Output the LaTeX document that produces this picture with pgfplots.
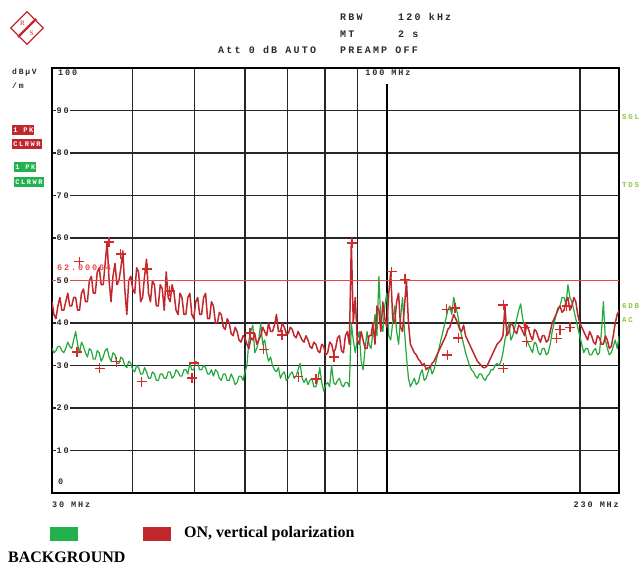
\documentclass[border=0pt]{standalone}
\usepackage{pgfplots}
\pgfplotsset{compat=1.18}
\usepackage{pgfplotstable}
\usepackage{fontspec}
\setmainfont{Liberation Serif}
\newfontfamily\rsfont[LetterSpace=22]{Liberation Mono}
\definecolor{trred}{HTML}{C0272D}
\definecolor{trgreen}{HTML}{22A83C}
\definecolor{limred}{HTML}{E84A4A}
\definecolor{lgreen}{HTML}{22B14C}
\definecolor{lred}{HTML}{C1272D}
\definecolor{mkred}{HTML}{D42A2A}
\definecolor{txt}{HTML}{2E2A25}
\definecolor{rsgreen}{HTML}{8CC63F}
\newcommand\rs[2]{{\rsfont\fontsize{#1}{#1}\selectfont\bfseries #2}}

\pgfplotstableread{
f on bg
30.00 45 34
30.21 42 33
30.43 41 33.5
30.64 44 34.5
30.86 46 34.5
31.08 43 33.5
31.30 43 33
31.52 45 34
31.75 47 35.5
31.97 44 34.5
32.20 44 34
32.43 46 36
32.66 46 38
32.89 43 35
33.12 43 33
33.35 47 35.5
33.59 48 34.5
33.83 45 33
34.07 45 32
34.31 50 34
34.56 51 33.5
34.80 47 31.5
35.05 47 31.5
35.30 52 33.5
35.55 53 33
35.80 49 31
36.06 49 32
36.31 54 33.5
36.57 59 34
36.83 50 32
37.09 45 31
37.35 51 33
37.62 54 32.5
37.89 49 30.5
38.16 50 30.5
38.43 53 32
38.70 57 31.5
38.97 48 30
39.25 42 29.5
39.53 50 31
39.81 51 30.5
40.09 48 29
40.38 47 28.5
40.66 53 30
40.95 52 29.5
41.24 45 28
41.54 46 28
41.83 51 29.5
42.13 55 28.5
42.43 47 27
42.73 45 27
43.03 50 28.5
43.34 49 28
43.64 44 26.5
43.95 44 26.5
44.26 49 28
44.58 48 28
44.90 43 27
45.22 52 27
45.54 46 28.5
45.86 45 28.5
46.18 49 27
46.51 47 27.5
46.84 43 29
47.18 42 28.5
47.51 47 27.5
47.85 46 27.5
48.19 42 29
48.53 42 29
48.87 46 28
49.22 47 30.5
49.57 42 29
49.92 41 29
50.27 45 31
50.63 46 30.5
50.99 42 29
51.35 42 29
51.72 46 30
52.09 47 29.5
52.46 41 28
52.83 41 28
53.20 45 29
53.58 44 27.5
53.96 40 29
54.35 40 28.5
54.73 42.5 27
55.12 42 26.5
55.51 39 28
55.90 38.5 28
56.30 41 26.5
56.70 40 26.5
57.10 37.5 28
57.51 37 27
57.92 39 25.5
58.33 38 26
58.74 36 27.5
59.16 35.5 27.5
59.58 37 26.5
60.00 36.5 28.5
60.43 35 30
60.86 34 36
61.29 36.5 38
61.72 36 39.5
62.16 37.5 33
62.60 35 34
63.05 36 36
63.50 37 40
63.95 39 35
64.40 38 36
64.86 37 33
65.32 40 31
65.78 38 32
66.25 38 30
66.72 39.5 29
67.19 42 28.5
67.67 38 29.5
68.15 38 27
68.63 40 28
69.12 39 28.5
69.61 37.5 26.5
70.11 37.5 27
70.61 39 28
71.11 38.5 28.5
71.61 37 27
72.12 36.5 27.5
72.63 38 29
73.15 37 30.5
73.67 36 27
74.19 35.5 26
74.72 37 27
75.25 36 25.5
75.78 34.5 26.5
76.32 34 27
76.86 35.5 25
77.41 35 25
77.96 33.5 26.5
78.51 33 29.5
79.07 35 26
79.63 34.5 24
80.19 32.5 25.5
80.76 33 26
81.33 35.5 25
81.91 35 30
82.49 33 26
83.08 34 25.5
83.67 36.5 26.5
84.26 37 27
84.86 33.5 25.5
85.47 33 25
86.07 37 26
86.68 38 26
87.30 35 25
87.92 59 40
88.54 40 36
89.17 46 33
89.80 36 36
90.44 35 38
91.08 38 31
91.73 36 29
92.38 34 34
93.04 34 38
93.70 37 35
94.37 37 34
95.04 40 38
95.71 35 42
96.39 44 37
97.08 43 51
97.77 38 40
98.46 45 38
99.16 41 44
99.86 39 47
100.57 47 37
101.28 52 36
102.00 41 40
102.73 40 44
103.46 45 38
104.19 47 35
104.93 39 41
105.68 38 46
106.43 44 38
107.19 50 32
107.95 40 27
108.71 35 25
109.48 34 26
110.26 33 27
111.04 32.5 25.5
111.83 31.5 26
112.63 31 28
113.43 30 29
114.23 30.5 26.5
115.04 29 27
115.86 29.5 28.5
116.68 29.5 30
117.51 30.5 28
118.34 31 29
119.18 32 31
120.03 33 33
120.88 34 35
121.74 35 37
122.61 36 39
123.48 37 41
124.36 38.5 43
125.24 39 44
126.13 40.5 42
127.02 42 46
127.92 41 44
128.83 40 42
129.75 38.5 39
130.67 38 37
131.60 39.5 35
132.53 37 33
133.47 36 31.5
134.42 35 30
135.37 34 29
136.33 33 28.5
137.30 32 27.5
138.28 31 27
139.26 30.5 28
140.25 30 28
141.25 29.5 27
142.25 29.5 26.5
143.26 30 27.5
144.27 31 28
145.30 32 29
146.33 33 29
147.37 34 30
148.41 35 30.5
149.47 35.5 30
150.53 36 31
151.60 37 33
152.67 44 36
153.76 37 38
154.85 38 40
155.95 40 36
157.05 39.5 37
158.17 38 39
159.29 37.5 41
160.42 39.5 43
161.56 39 44.5
162.71 38 41
163.86 37 39
165.03 39.5 36
166.20 38.5 35
167.38 37 34
168.57 36 33
169.77 38.5 35.5
170.97 38 35
172.18 36.5 33
173.40 35.5 32.5
174.64 37 34
175.88 37 34
177.13 35.5 32.5
178.38 36 33
179.65 38 35
180.92 40 38
182.21 41 40
183.50 42 42
184.81 43.5 43
186.12 44 44
187.44 42.5 46
188.77 43 46
190.11 45 44.5
191.46 46 49
192.82 43 46
194.19 44 45
195.57 46 43
196.95 45 41
198.35 42 39
199.76 40 37
201.18 39 35
202.61 38 33
204.05 37 34
205.49 36 34
206.95 38 32.5
208.42 37 32.5
209.90 35.5 33.5
211.39 35 34
212.89 37 32.5
214.40 36.5 33
215.93 35 38
217.46 35 45
219.01 37 36
220.56 36 34
222.13 34 32.5
223.70 34.5 33
225.29 37 34.5
226.89 40 36
228.50 42 34
230.12 43 37
}\spectrum

\pgfplotstableread{
f v
33.1 54.4
36.8 59.1
38.4 56.2
42.2 52.7
45.8 47.5
32.8 33.2
35.6 29.3
37.8 30.9
41.4 26.2
49.6 27.1
50.0 30.6
61.1 37.6
64.2 33.8
68.5 37.2
72.7 27.4
77.4 26.8
82.6 32.0
88.1 58.8
101.6 52.1
106.6 50.3
123.8 43.2
127.6 43.5
129.1 36.5
124.1 32.5
151.8 44.2
151.8 29.3
164.0 39.0
165.1 35.6
186.1 38.4
183.9 36.4
192.9 39.0
190.6 44.0
}\markers

\begin{document}
\begin{tikzpicture}
\path[use as bounding box] (0pt,0pt) rectangle (643pt,565pt);
\begin{axis}[at={(52pt,72pt)}, anchor=south west, scale only axis,
  width=567pt, height=425pt,
  xmode=log, xmin=30, xmax=230, ymin=0, ymax=100,
  xtick={40,50,60,70,80,90,200}, ytick={10,20,...,90},
  xticklabels={}, yticklabels={},
  xminorticks=false, yminorticks=false,
  grid=major, major grid style={black!85, line width=1.2pt},
  tick style={draw=none},
  axis line style={line width=1.8pt}]
\draw[line width=2.6pt] (axis cs:100,0) -- (axis cs:100,96.3);
\draw[line width=1.5pt] (axis cs:100,100) -- (axis cs:100,98.8);
\addplot[trgreen, line width=1.2pt, line join=round] table[x=f,y=bg]{\spectrum};
\addplot[trred, line width=1.5pt, line join=round] table[x=f,y=on]{\spectrum};
\addplot[limred, line width=1.2pt] coordinates {(30,50) (230,50)};
\addplot[only marks, mark=+, mark size=5pt, mark options={line width=1.4pt, draw=mkred, solid}, color=mkred] table[x=f,y=v]{\markers};
\end{axis}
\begin{scope}[x=1pt,y=1pt]
% header
\node[anchor=base west, inner sep=0, text=txt] at (340,544) {\rs{10}{RBW}};
\node[anchor=base west, inner sep=0, text=txt] at (398,544) {\rs{10}{120 kHz}};
\node[anchor=base west, inner sep=0, text=txt] at (340,527) {\rs{10}{MT}};
\node[anchor=base west, inner sep=0, text=txt] at (398,527) {\rs{10}{2 s}};
\node[anchor=base west, inner sep=0, text=txt] at (218,511) {\rs{10}{Att 0 dB AUTO}};
\node[anchor=base west, inner sep=0, text=txt] at (340,511) {\rs{10}{PREAMP OFF}};
% logo
\begin{scope}[shift={(27,537)}]
\draw[lred, line width=1.2pt, rotate=45] (-11.5,-11.5) rectangle (11.5,11.5);
\draw[lred, line width=2.2pt] (-9,-9) -- (9,9);
\node[text=lred, inner sep=0, font=\fontsize{7}{7}\selectfont] at (-4.5,5) {R};
\node[text=lred, inner sep=0, font=\fontsize{7}{7}\selectfont] at (4.5,-5) {S};
\end{scope}
% left labels
\node[anchor=base west, inner sep=0, text=txt] at (12,490) {\rs{8}{dBµV}};
\node[anchor=base west, inner sep=0, text=txt] at (12,476) {\rs{8}{/m}};
\node[anchor=west, fill=lred, text=white, inner sep=1.2pt, minimum height=10pt] at (12,435) {\rs{7}{1 PK}};
\node[anchor=west, fill=lred, text=white, inner sep=1.2pt, minimum height=10pt] at (12,421) {\rs{7}{CLRWR}};
\node[anchor=west, fill=lgreen, text=white, inner sep=1.2pt, minimum height=10pt] at (14,398) {\rs{7}{1 PK}};
\node[anchor=west, fill=lgreen, text=white, inner sep=1.2pt, minimum height=10pt] at (14,383) {\rs{7}{CLRWR}};
% right labels
\node[anchor=west, inner sep=0, text=rsgreen] at (622,448) {\rs{7.5}{SGL}};
\node[anchor=west, inner sep=0, text=rsgreen] at (622,380) {\rs{7.5}{TDS}};
\node[anchor=west, inner sep=0, text=rsgreen] at (622,259) {\rs{7.5}{6DB}};
\node[anchor=west, inner sep=0, text=rsgreen] at (622,245) {\rs{7.5}{AC}};
% y tick labels
\node[anchor=west, inner sep=0, text=txt] at (58,492) {\rs{8.5}{100}};
\foreach \v in {90,80,70,60,50,40,30,20,10}{
  \node[anchor=west, fill=white, inner sep=1pt, text=txt] at (55.5,{72+4.25*\v}) {\rs{8.5}{\v}};
}
\node[anchor=west, inner sep=0, text=txt] at (58,83) {\rs{8.5}{0}};
\node[anchor=west, inner sep=0, text=limred] at (57,297) {\rs{8.5}{62.00064}};
% x labels
\node[anchor=west, inner sep=0, text=txt] at (52,60) {\rs{8.5}{30 MHz}};
\node[anchor=east, inner sep=0, text=txt] at (619,60) {\rs{8.5}{230 MHz}};
\node[fill=white, inner sep=1pt, text=txt] at (388,492) {\rs{8.5}{100 MHz}};
% legend
\fill[lgreen] (50,24) rectangle (78,38);
\fill[lred] (143,24) rectangle (171,38);
\node[anchor=west, inner sep=0, font=\bfseries\fontsize{16}{16}\selectfont] at (184,31) {ON, vertical polarization};
\node[anchor=west, inner sep=0, font=\bfseries\fontsize{16}{16}\selectfont] at (8,8) {BACKGROUND};
\end{scope}
\end{tikzpicture}
\end{document}
